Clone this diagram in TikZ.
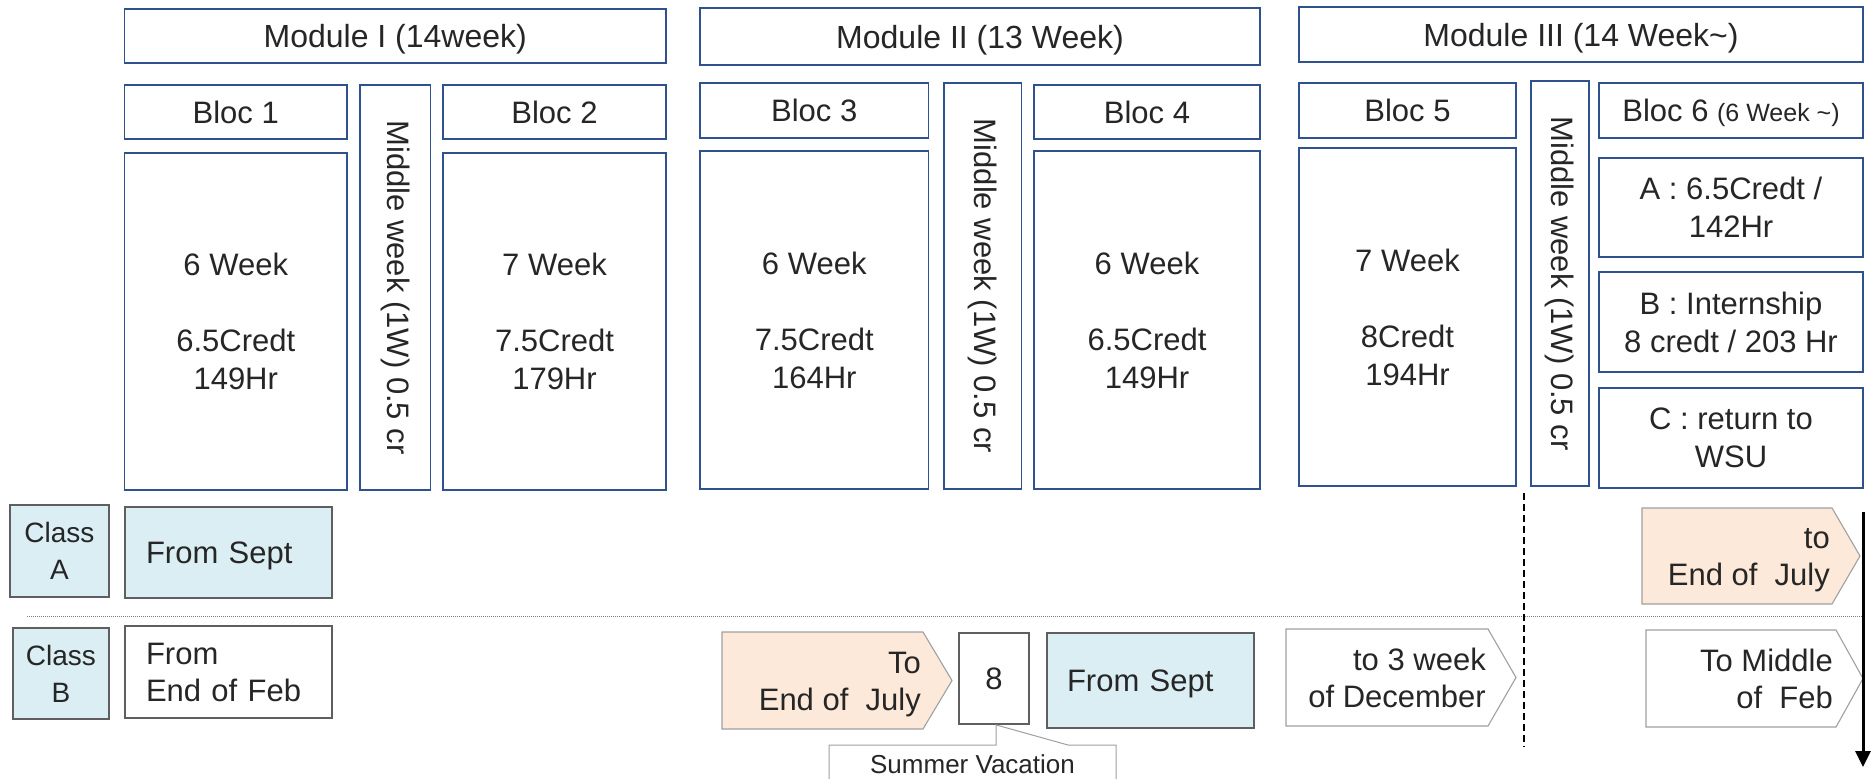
\documentclass[tikz,border=0pt]{standalone}
\usepackage{fontspec}
\setmainfont{Liberation Sans}
\usetikzlibrary{arrows.meta}
\definecolor{bblue}{RGB}{47,82,143}
\definecolor{lblue}{RGB}{218,238,243}
\definecolor{lorange}{RGB}{253,233,217}
\definecolor{dgray}{RGB}{95,95,95}
\definecolor{lgray}{RGB}{160,160,160}
\definecolor{txt}{RGB}{38,38,38}
\newcommand\mybox[7]{\node[#2, minimum width={(#5)-(#3)}, minimum height={(#6)-(#4)}] (#1) at ({((#3)+(#5))/2},{((#4)+(#6))/2}) {#7};}
\begin{document}
\begin{tikzpicture}[x=1pt,y=-1pt,
  bluebox/.style={draw=bblue, line width=1.8pt, fill=white, text=txt, inner sep=0pt, align=center, font=\fontsize{31}{38}\selectfont},
  onerow/.style={text depth=0pt},
  modbox/.style={bluebox, onerow, font=\fontsize{32}{38}\selectfont},
  graybox/.style={draw=dgray, line width=1.8pt, fill=white, text=txt, inner sep=0pt, align=center, font=\fontsize{31}{37}\selectfont},
  classbox/.style={graybox, fill=lblue, font=\fontsize{28}{37}\selectfont},
  leftbox/.style={graybox, inner xsep=#1, align=left},
  pent/.style={draw=lgray, line width=1.1pt},
  penttext/.style={anchor=east, align=right, inner sep=0pt, text=txt, font=\fontsize{31}{37}\selectfont},
  vtext/.style={bluebox, rotate=-90}
]
\useasboundingbox (0,0) rectangle (1874,779);
\clip (0,0) rectangle (1874,779);

% Modules
\mybox{m1}{modbox}{124.5}{9}{666}{63}{Module I (14week)}
\mybox{m2}{modbox}{700}{8}{1260}{65}{Module II (13 Week)}
\mybox{m3}{modbox}{1299}{7}{1863}{62}{Module III (14 Week\textasciitilde)}

% Bloc headers
\mybox{b1}{bluebox, onerow}{124.5}{85}{347}{139}{Bloc 1}
\mybox{b2}{bluebox, onerow}{443}{85}{666}{139}{Bloc 2}
\mybox{b3}{bluebox, onerow}{700}{83}{928.5}{138}{Bloc 3}
\mybox{b4}{bluebox, onerow}{1034}{85}{1260}{139}{Bloc 4}
\mybox{b5}{bluebox, onerow}{1299}{83}{1516}{138}{Bloc 5}
\mybox{b6}{bluebox, onerow}{1599}{83}{1863}{138}{Bloc 6 {\fontsize{25}{30}\selectfont(6 Week \textasciitilde)}}

% Bloc bodies
\mybox{b1body}{bluebox}{124.5}{153}{347}{490}{6 Week\\[38pt]6.5Credt\\149Hr}
\mybox{b2body}{bluebox}{443}{153}{666}{490}{7 Week\\[38pt]7.5Credt\\179Hr}
\mybox{b3body}{bluebox}{700}{151}{928.5}{489}{6 Week\\[38pt]7.5Credt\\164Hr}
\mybox{b4body}{bluebox}{1034}{151}{1260}{489}{6 Week\\[38pt]6.5Credt\\149Hr}
\mybox{b5body}{bluebox}{1299}{148}{1516}{486}{7 Week\\[38pt]8Credt\\194Hr}
\mybox{b6a}{bluebox}{1599}{158}{1863}{257}{A : 6.5Credt /\\142Hr}
\mybox{b6b}{bluebox}{1599}{272}{1863}{372}{B : Internship\\8 credt / 203 Hr}
\mybox{b6c}{bluebox}{1599}{388}{1863}{488}{C : return to\\WSU}

% Middle weeks (rotated)
\node[vtext, minimum width=405, minimum height=70.5] (mw1) at (395.25,287.5) {Middle week (1W) 0.5 cr};
\node[vtext, minimum width=406, minimum height=77.5] (mw2) at (982.75,286) {Middle week (1W) 0.5 cr};
\node[vtext, minimum width=405, minimum height=58] (mw3) at (1560,283.5) {Middle week (1W) 0.5 cr};

% Separator lines
\coordinate (sepL) at (27,616);
\coordinate (sepR) at (1863,616);
\draw[gray, line width=1pt, dash pattern=on 1pt off 1pt] (sepL) -- (sepR);
\coordinate (dashT) at (1524,493);
\coordinate (dashB) at (1524,747);
\draw[black, line width=1.6pt, dash pattern=on 7pt off 4pt] (dashT) -- (dashB);

% Class A row
\mybox{classA}{classbox}{10}{505}{109}{597}{Class\\A}
\mybox{fromA}{leftbox=21pt, onerow, fill=lblue, text width=165pt}{125}{507}{332}{598}{From Sept}
\path[pent, fill=lorange] (1642,508) -- (1832,508) -- (1860,556) -- (1832,604) -- (1642,604) -- cycle;
\node[penttext] (toA) at (1830,560.5) {to\\End of\ \ July};

% Class B row
\mybox{classB}{classbox}{13}{628}{109}{719}{Class\\B}
\mybox{fromB}{leftbox=21pt, line width=1.5pt, text width=165pt}{125}{626}{332}{718}{From\\End of Feb}
\path[pent, fill=lorange] (722,632) -- (923,632) -- (952,680.5) -- (923,729) -- (722,729) -- cycle;
\node[penttext] (toB) at (921,685) {To\\End of\ \ July};
\mybox{eight}{graybox, onerow}{959}{633}{1029}{724}{8}
\mybox{fromS}{leftbox=20pt, onerow, fill=lblue, text width=167pt}{1047}{633}{1254}{728}{From Sept}
\path[pent, fill=white] (1286,629) -- (1488,629) -- (1516,677.5) -- (1488,726) -- (1286,726) -- cycle;
\node[penttext] (toDec) at (1486,677.5) {to 3 week\\of December};
\path[pent, fill=white] (1646,630) -- (1836,630) -- (1863,678.5) -- (1836,727) -- (1646,727) -- cycle;
\node[penttext] (toFeb) at (1833,678.5) {To Middle\\of\ \ Feb};

% Summer vacation callout
\draw[lgray, line width=1pt, fill=white] (829,795) -- (829,745) -- (996,745) -- (eight.south -| 996,0) -- (1068,745) -- (1116,745) -- (1116,795);
\node[text=txt, inner sep=0pt, font=\fontsize{26}{30}\selectfont] (summer) at (972.5,764.5) {Summer Vacation};

% Time arrow
\coordinate (arrT) at (1863,512);
\coordinate (arrB) at (1863,767);
\draw[black, line width=3pt, -{Triangle[width=15pt,length=16pt]}] (arrT) -- (arrB);
\end{tikzpicture}
\end{document}
